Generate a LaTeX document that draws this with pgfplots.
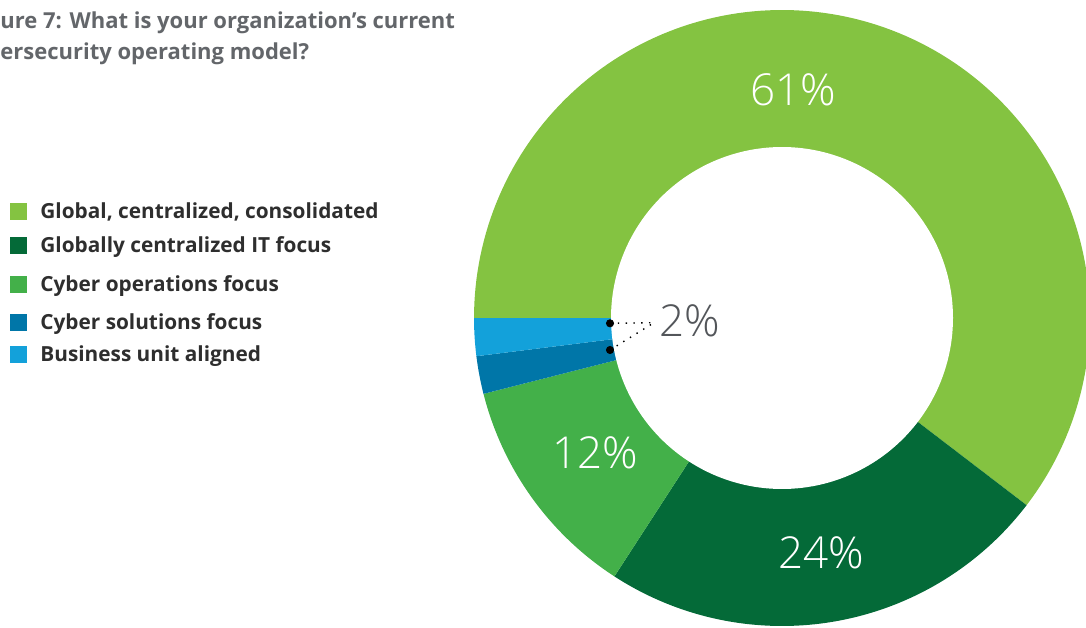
\documentclass[border=0pt]{standalone}
\usepackage{pgfplots}
\pgfplotsset{compat=1.18}
\usepackage{fontspec}
\setmainfont{Open Sans}
\IfFontExistsTF{Open Sans Light}{\newfontfamily\lightfont{Open Sans Light}}{\newfontfamily\lightfont{Open Sans}}
\definecolor{cA}{HTML}{84C341}
\definecolor{cB}{HTML}{046A38}
\definecolor{cC}{HTML}{43B049}
\definecolor{cD}{HTML}{0076A8}
\definecolor{cE}{HTML}{13A1DA}
\definecolor{titlegrey}{HTML}{63666A}
\definecolor{legtext}{HTML}{2E2E2E}
\definecolor{lblgrey}{HTML}{53565A}
% shares (percent)
\def\vA{61}\def\vB{24}\def\vC{12}\def\vD{2}\def\vE{2}
\pgfmathsetmacro{\tot}{\vA+\vB+\vC+\vD+\vE}
\pgfmathsetmacro{\u}{360/\tot}
\pgfmathsetmacro{\aO}{180}
\pgfmathsetmacro{\aA}{\aO-\vA*\u}
\pgfmathsetmacro{\aB}{\aA-\vB*\u}
\pgfmathsetmacro{\aC}{\aB-\vC*\u}
\pgfmathsetmacro{\aD}{\aC-\vD*\u}
\pgfmathsetmacro{\aE}{\aD-\vE*\u}
\def\cx{782}\def\cy{309}\def\R{308}\def\r{171}
\begin{document}
\begin{tikzpicture}
\useasboundingbox (0,0) rectangle (543pt,313.5pt);
\clip (0,0) rectangle (543pt,313.5pt);
\begin{axis}[
  at={(0,0)}, anchor=south west,
  width=543pt, height=313.5pt, scale only axis,
  xmin=0, xmax=1086, ymin=0, ymax=627,
  hide axis, clip=false, enlargelimits=false,
]
% donut wedges
\addplot[fill=cA, draw=none, domain=\aA:\aO, samples=150] ({\cx+\R*cos(x)},{\cy+\R*sin(x)}) -- (axis cs:\cx,\cy) -- cycle;
\addplot[fill=cB, draw=none, domain=\aB:\aA, samples=80] ({\cx+\R*cos(x)},{\cy+\R*sin(x)}) -- (axis cs:\cx,\cy) -- cycle;
\addplot[fill=cC, draw=none, domain=\aC:\aB, samples=50] ({\cx+\R*cos(x)},{\cy+\R*sin(x)}) -- (axis cs:\cx,\cy) -- cycle;
\addplot[fill=cD, draw=none, domain=\aD:\aC, samples=20] ({\cx+\R*cos(x)},{\cy+\R*sin(x)}) -- (axis cs:\cx,\cy) -- cycle;
\addplot[fill=cE, draw=none, domain=\aE:\aD, samples=20] ({\cx+\R*cos(x)},{\cy+\R*sin(x)}) -- (axis cs:\cx,\cy) -- cycle;
% hole
\addplot[fill=white, draw=none, domain=0:360, samples=200] ({\cx+\r*cos(x)},{\cy+\r*sin(x)}) -- cycle;
% leader lines for the 2% slices
\addplot[black, line width=0.7pt, dash pattern=on 0.7pt off 3.2pt] coordinates {(610,303.7) (654,304.3)};
\addplot[black, line width=0.7pt, dash pattern=on 0.7pt off 3.2pt] coordinates {(610,277) (654,304.3)};
\addplot[only marks, mark=*, mark size=1.8pt, black] coordinates {(610,303.7) (610,277)};
% value labels
\node[text=white, font=\lightfont\fontsize{22}{25}\selectfont, anchor=base] at (axis cs:793,521) {61\%};
\node[text=white, font=\lightfont\fontsize{22}{25}\selectfont, anchor=base] at (axis cs:821,59) {24\%};
\node[text=white, font=\lightfont\fontsize{22}{25}\selectfont, anchor=base] at (axis cs:595,159) {12\%};
\node[text=lblgrey, font=\lightfont\fontsize{22}{26}\selectfont, anchor=base west, inner sep=0pt] at (axis cs:659,290) {2\%};
% legend squares
\addplot[only marks, mark=square*, mark size=4pt, color=cA] coordinates {(18,416)};
\addplot[only marks, mark=square*, mark size=4pt, color=cB] coordinates {(18,382)};
\addplot[only marks, mark=square*, mark size=4pt, color=cC] coordinates {(18,343)};
\addplot[only marks, mark=square*, mark size=4pt, color=cD] coordinates {(18,305)};
\addplot[only marks, mark=square*, mark size=4pt, color=cE] coordinates {(18,273)};
% legend texts
\node[text=legtext, font=\fontsize{10.4}{12}\selectfont\bfseries, anchor=base west, inner sep=0pt] at (axis cs:40,408) {Global, centralized, consolidated};
\node[text=legtext, font=\fontsize{10.4}{12}\selectfont\bfseries, anchor=base west, inner sep=0pt] at (axis cs:40,374) {Globally centralized IT focus};
\node[text=legtext, font=\fontsize{10.4}{12}\selectfont\bfseries, anchor=base west, inner sep=0pt] at (axis cs:40,335) {Cyber operations focus};
\node[text=legtext, font=\fontsize{10.4}{12}\selectfont\bfseries, anchor=base west, inner sep=0pt] at (axis cs:40,297) {Cyber solutions focus};
\node[text=legtext, font=\fontsize{10.4}{12}\selectfont\bfseries, anchor=base west, inner sep=0pt] at (axis cs:40,265) {Business unit aligned};
% title (cut at the left edge as in the reference)
\node[text=titlegrey, font=\fontsize{11}{13}\selectfont\bfseries, anchor=base west, inner sep=0pt] at (axis cs:0,598) {\llap{Fig}ure 7: What is your organization’s current};
\node[text=titlegrey, font=\fontsize{11}{13}\selectfont\bfseries, anchor=base west, inner sep=0pt] at (axis cs:0,567) {\llap{Cyb}ersecurity operating model?};
\end{axis}
\end{tikzpicture}
\end{document}
